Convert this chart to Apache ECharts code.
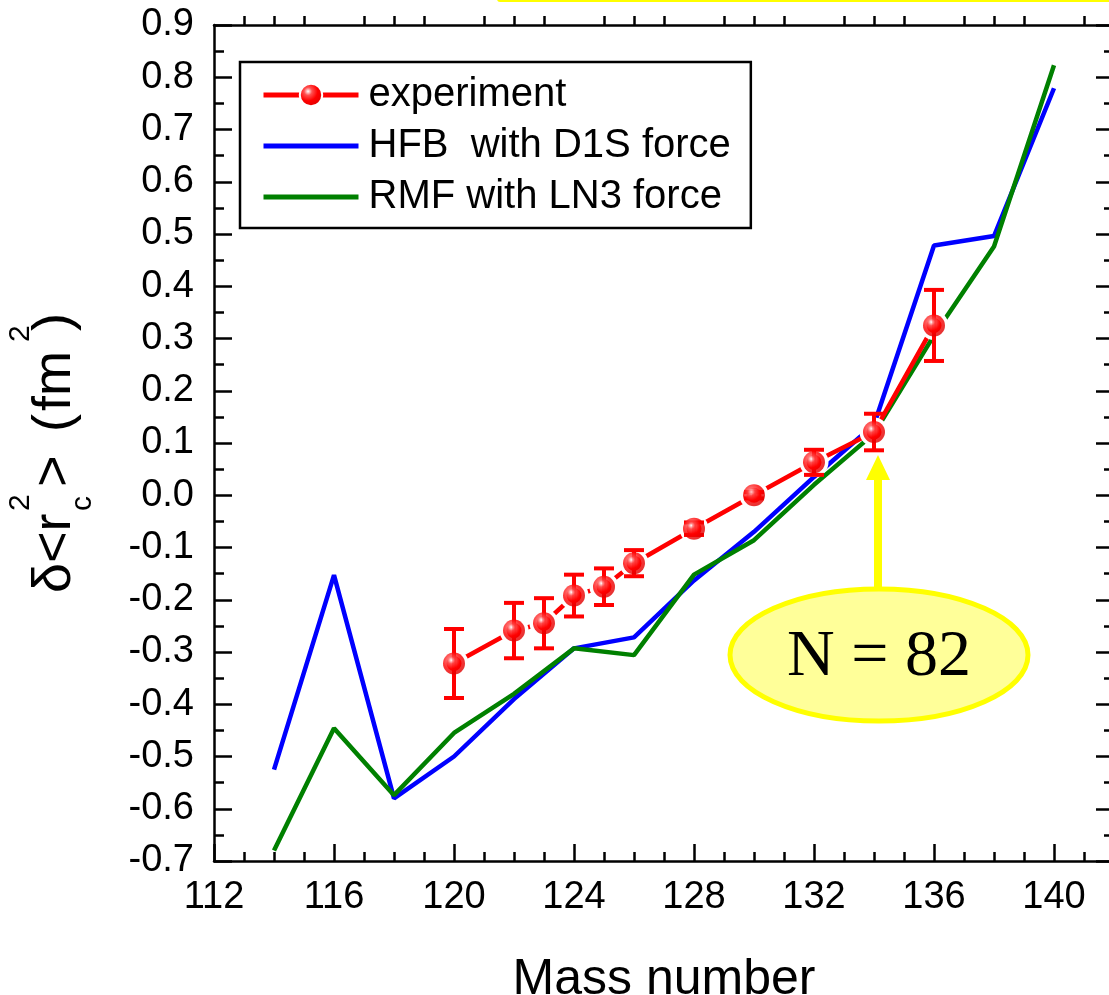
<!DOCTYPE html>
<html>
<head>
<meta charset="utf-8">
<script src="https://cdn.jsdelivr.net/npm/echarts@6/dist/echarts.min.js"></script>
<style>
  html, body { margin: 0; padding: 0; background: #fff; }
  #chart { width: 1109px; height: 995px; }
</style>
</head>
<body>
<div id="chart"></div>
<script>
// experimental points with error bars
const expMass = [120, 122, 123, 124, 125, 126, 128, 130, 132, 134, 136];
const expVal = [-0.322, -0.259, -0.245, -0.192, -0.175, -0.130, -0.064, 0.0, 0.063, 0.121, 0.325];
const expErr = [0.066, 0.053, 0.048, 0.040, 0.035, 0.025, 0.012, 0.006, 0.024, 0.035, 0.068];

// theory curves
const thMass = [114, 116, 118, 120, 122, 124, 126, 128, 130, 132, 134, 136, 138, 140];
const hfbVal = [-0.525, -0.153, -0.580, -0.500, -0.390, -0.293, -0.272, -0.163, -0.070, 0.035, 0.135, 0.478, 0.496, 0.779];
const rmfVal = [-0.680, -0.446, -0.574, -0.455, -0.380, -0.293, -0.306, -0.152, -0.086, 0.020, 0.118, 0.306, 0.476, 0.823];

const legendNames = ["experiment", "HFB  with D1S force", "RMF with LN3 force"];

const FONT = "Liberation Sans";

let chart = echarts.init(document.getElementById("chart"));

let pairs = (xs, ys) => xs.map((x, i) => [x, ys[i]]);

let sphere = {
  type: "radial",
  x: 0.38,
  y: 0.35,
  r: 0.65,
  colorStops: [
    { offset: 0, color: "#ffffff" },
    { offset: 0.25, color: "#ff5050" },
    { offset: 0.6, color: "#ff0000" },
    { offset: 1, color: "#e00000" },
  ],
};

let xAxisBase = {
  type: "value",
  min: 112,
  max: 142,
  interval: 4,
  splitLine: { show: false },
  axisLine: { show: true, onZero: false, lineStyle: { color: "#000", width: 2.5 } },
};
let yAxisBase = {
  type: "value",
  min: -0.7,
  max: 0.9,
  interval: 0.1,
  splitLine: { show: false },
  axisLine: { show: true, onZero: false, lineStyle: { color: "#000", width: 2.5 } },
};

let option = {
  animation: false,
  backgroundColor: "#fff",
  grid: { left: 214, right: -5, top: 25, bottom: 134, containLabel: false, outerBoundsMode: "none" },
  legend: {
    data: [
      { name: legendNames[0] },
      { name: legendNames[1], itemStyle: { opacity: 0 } },
      { name: legendNames[2], itemStyle: { opacity: 0 } },
    ],
    orient: "vertical",
    left: 240,
    top: 62,
    padding: [13, 20, 11, 21],
    borderColor: "#000",
    borderWidth: 2.5,
    itemWidth: 95,
    itemHeight: 28,
    itemGap: 11,
    selectedMode: false,
    lineStyle: { width: 5 },
    textStyle: {
      fontFamily: FONT,
      fontSize: 40,
      lineHeight: 40,
      color: "#000",
      padding: [0, 0, 0, 5],
    },
  },
  xAxis: [
    Object.assign({}, xAxisBase, {
      position: "bottom",
      name: "Mass number",
      nameLocation: "middle",
      nameGap: 94,
      nameTextStyle: { fontFamily: FONT, fontSize: 50, color: "#000" },
      axisTick: { show: true, inside: true, length: 17, lineStyle: { color: "#000", width: 2.5 } },
      minorTick: { show: true, splitNumber: 4, length: 9, lineStyle: { color: "#000", width: 2.5 } },
      axisLabel: {
        fontFamily: FONT,
        fontSize: 38,
        color: "#000",
        margin: 18,
        showMaxLabel: false,
      },
    }),
    Object.assign({}, xAxisBase, {
      position: "top",
      axisTick: { show: false },
      minorTick: { show: true, splitNumber: 4, length: 9, lineStyle: { color: "#000", width: 2.5 } },
      axisLabel: { show: false },
    }),
  ],
  yAxis: [
    Object.assign({}, yAxisBase, {
      position: "left",
      axisTick: { show: true, inside: true, length: 18, lineStyle: { color: "#000", width: 2.5 } },
      minorTick: { show: true, splitNumber: 2, length: 10, lineStyle: { color: "#000", width: 2.5 } },
      axisLabel: {
        fontFamily: FONT,
        fontSize: 38,
        color: "#000",
        margin: 20,
        formatter: (v) => (Math.abs(v) < 1e-9 ? "0.0" : v.toFixed(1)),
      },
    }),
    Object.assign({}, yAxisBase, {
      position: "right",
      axisTick: { show: true, inside: true, length: 18, lineStyle: { color: "#000", width: 2.5 } },
      minorTick: { show: true, splitNumber: 2, length: 10, lineStyle: { color: "#000", width: 2.5 } },
      axisLabel: { show: false },
    }),
  ],
  series: [
    {
      name: legendNames[1],
      type: "line",
      data: pairs(thMass, hfbVal),
      showSymbol: false,
      symbol: "none",
      color: "#0000ff",
      lineStyle: { color: "#0000ff", width: 4.5 },
      z: 2,
    },
    {
      name: legendNames[2],
      type: "line",
      data: pairs(thMass, rmfVal),
      showSymbol: false,
      symbol: "none",
      color: "#008000",
      lineStyle: { color: "#008000", width: 4.5 },
      z: 3,
    },
    {
      name: legendNames[0],
      type: "line",
      data: pairs(expMass, expVal),
      symbol: "circle",
      symbolSize: 22,
      showAllSymbol: true,
      color: "#ff0000",
      lineStyle: { color: "#ff0000", width: 4.5 },
      itemStyle: { color: sphere, borderColor: "#fff", borderWidth: 7 },
      z: 4,
    },
    {
      // error bars
      type: "custom",
      data: expMass.map((m, i) => [m, expVal[i], expErr[i]]),
      z: 5,
      renderItem: function (params, api) {
        let x = api.value(0);
        let y = api.value(1);
        let e = api.value(2);
        let top = api.coord([x, y + e]);
        let bot = api.coord([x, y - e]);
        let half = 10;
        let st = { stroke: "#ff0000", lineWidth: 4 };
        return {
          type: "group",
          children: [
            { type: "line", shape: { x1: top[0], y1: top[1], x2: bot[0], y2: bot[1] }, style: st },
            { type: "line", shape: { x1: top[0] - half, y1: top[1], x2: top[0] + half, y2: top[1] }, style: st },
            { type: "line", shape: { x1: bot[0] - half, y1: bot[1], x2: bot[0] + half, y2: bot[1] }, style: st },
          ],
        };
      },
    },
    {
      // sphere markers drawn over the error bars
      type: "scatter",
      data: pairs(expMass, expVal),
      symbol: "circle",
      symbolSize: 22,
      itemStyle: { color: sphere },
      z: 6,
    },
  ],
};

chart.setOption(option);

// annotation: arrow + ellipse "N = 82", y axis title
let tip = chart.convertToPixel({ xAxisIndex: 0, yAxisIndex: 0 }, [134, 0.077]);
let ax = tip[0] + 4;
let ay = tip[1];

let yTitle = (text, x, y, size) => ({
  type: "text",
  x: x,
  y: y,
  style: { text: text, font: size + 'px "Liberation Sans"', fill: "#000", align: "left", verticalAlign: "middle" },
});

chart.setOption({
  graphic: [
    {
      type: "rect",
      shape: { x: 497, y: -4, width: 640, height: 6, r: 3 },
      style: { fill: "#ffff00" },
      z: 20,
    },
    {
      type: "polygon",
      shape: {
        points: [
          [ax, ay],
          [ax + 12, ay + 25],
          [ax + 4, ay + 25],
          [ax + 4, 590],
          [ax - 4, 590],
          [ax - 4, ay + 25],
          [ax - 12, ay + 25],
        ],
      },
      style: { fill: "#ffff00" },
      z: 20,
    },
    {
      type: "ellipse",
      shape: { cx: 879, cy: 655, rx: 149, ry: 66 },
      style: { fill: "#ffff99", stroke: "#ffff00", lineWidth: 5 },
      z: 21,
    },
    {
      type: "text",
      x: 879,
      y: 658,
      style: {
        text: "N = 82",
        font: '66px "Liberation Serif"',
        fill: "#000",
        align: "center",
        verticalAlign: "middle",
      },
      z: 22,
    },
    {
      type: "group",
      x: 55,
      y: 593,
      rotation: Math.PI / 2,
      z: 20,
      children: [
        yTitle("δ<r", 0, 0, 54),
        yTitle("2", 82, -34, 30),
        yTitle("c", 82, 28, 30),
        yTitle(">", 106, 0, 54),
        yTitle("(", 161, 0, 54),
        yTitle("fm", 182, 0, 54),
        yTitle("2", 251, -34, 30),
        yTitle(")", 262, 0, 54),
      ],
    },
  ],
});
</script>
</body>
</html>
